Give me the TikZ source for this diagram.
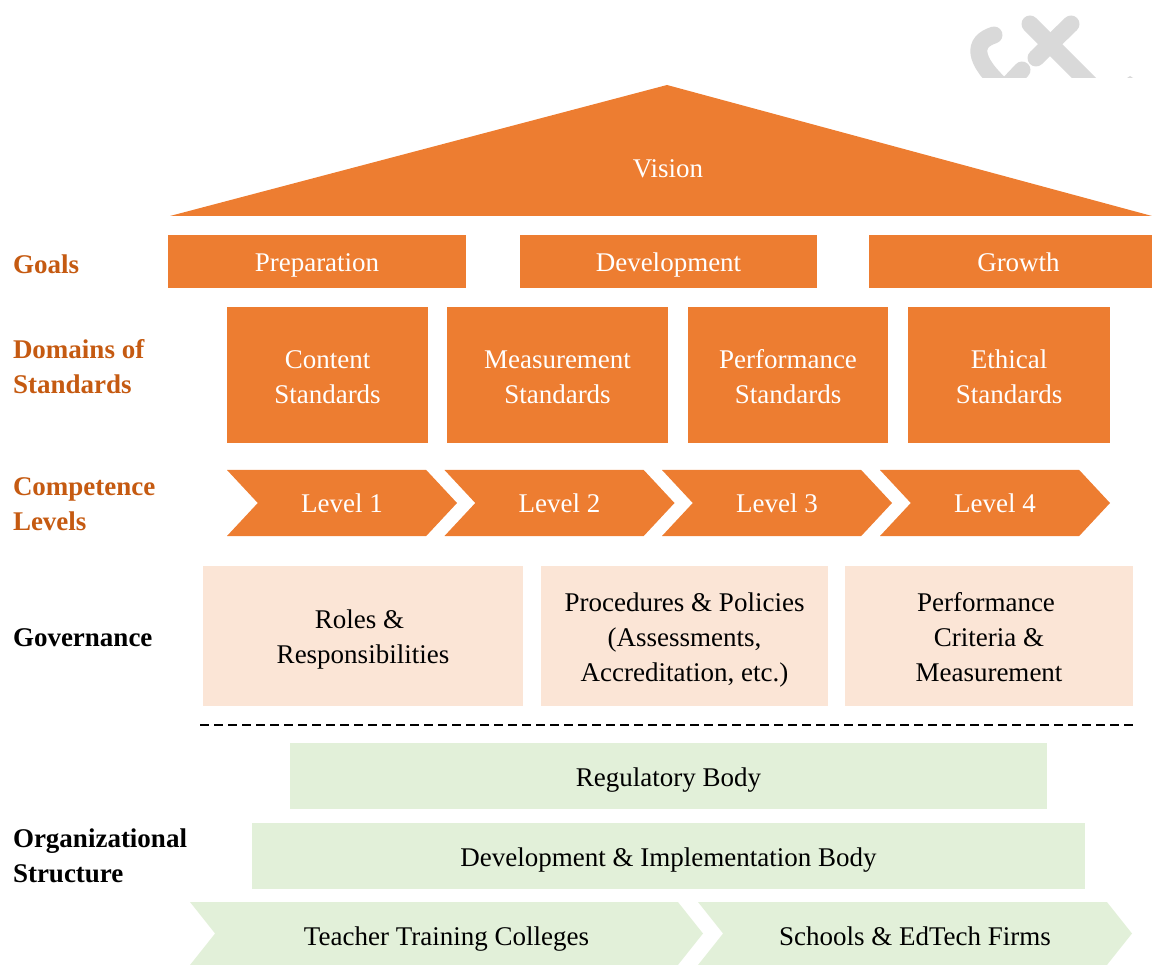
\documentclass[tikz,border=0pt]{standalone}
\usepackage{fontspec}
\setmainfont{Liberation Serif}
\usetikzlibrary{shapes.symbols}
\definecolor{roofcol}{HTML}{ED7D31}
\definecolor{headcol}{HTML}{C55A11}
\definecolor{rosecol}{HTML}{FBE5D6}
\definecolor{sagecol}{HTML}{E2F0D9}
\definecolor{logocol}{HTML}{D9D9D9}
\newcommand{\linetop}[1]{\rule{0pt}{#1pt}}

\begin{document}
\begin{tikzpicture}[x=1pt,y=-1pt,
		every node/.style={inner sep=0pt,outer sep=0pt,align=center,font=\fontsize{27}{35}\selectfont},
		text rise/.style={execute at end node={\rule[-6pt]{0pt}{#1pt}}},
		orange node/.style={fill=roofcol,text=white},
		goal node/.style={orange node,text rise=32,minimum height=53pt},
		domain node/.style={orange node,text rise=34,minimum height=136pt},
		level node/.style={orange node,text rise=30,signal,signal from=west,signal to=east,signal pointer angle=94,minimum width=230pt,minimum height=66pt},
		gov node/.style={fill=rosecol,text rise=32,minimum height=140pt},
		body node/.style={fill=sagecol,text rise=32,minimum height=66pt},
		inst node/.style={fill=sagecol,text rise=36,signal,signal from=west,signal to=east,signal pointer angle=103,minimum height=63pt},
		side node/.style={anchor=west,align=left,font=\fontsize{27}{35}\selectfont\bfseries},
		side head/.style={side node,text=headcol}]
	\useasboundingbox (0,0) rectangle (1152,965);
	% logo
	\begin{scope}
		\clip (960,0) rectangle (1140,78);
		\draw[logocol,line width=17pt,line cap=round] (1030,24) -- (1103,97);
		\draw[logocol,line width=17pt,line cap=round] (1071,24) -- (1036,58);
		\draw[logocol,line width=17pt,line cap=round] (994,35) .. controls (972,42) and (973,60) .. (1003,87);
		\draw[logocol,line width=17pt,line cap=round] (1022,70) -- (1005,88);
		\fill[logocol] (1127,78) -- (1130,76) -- (1133,78) -- cycle;
	\end{scope}
	% roof
	\fill[roofcol] (170,216) -- (667,85) -- (1152,216) -- cycle;
	\node[text=white] (vision) at (668,169) {Vision};
	% goals
	\node[side head] (goals) at (13,264) {Goals};
	\node[goal node,minimum width=298pt] (prep) at (317,261.5) {Preparation};
	\node[goal node,minimum width=297pt] (dev) at (668.5,261.5) {Development};
	\node[goal node,minimum width=283pt] (growth) at (1010.5,261.5) {\hspace*{16pt}Growth};
	% domains
	\node[side head] (domains) at (13,367) {Domains of\\Standards};
	\node[domain node,minimum width=201pt] (content) at (327.5,375) {\linetop{28}Content\\Standards};
	\node[domain node,minimum width=221pt] (measure) at (557.5,375) {\linetop{28}Measurement\\Standards};
	\node[domain node,minimum width=200pt] (perform) at (788,375) {\linetop{28}Performance\\Standards};
	\node[domain node,minimum width=202pt] (ethic) at (1009,375) {\linetop{28}Ethical\\Standards};
	% levels
	\node[side head] (levels) at (13,504) {Competence\\Levels};
	\node[level node] (l1) at (342,503) {Level 1};
	\node[level node] (l2) at (559.5,503) {Level 2};
	\node[level node] (l3) at (777,503) {Level 3};
	\node[level node] (l4) at (995,503) {Level 4};
	% governance
	\node[side node] (gov) at (13,638) {Governance};
	\node[gov node,minimum width=320pt] (roles) at (363,636) {\linetop{26}Roles \&\hspace*{7pt}\\Responsibilities};
	\node[gov node,minimum width=287pt] (proc) at (684.5,636) {\linetop{26}Procedures \& Policies\\(Assessments,\\Accreditation, etc.)};
	\node[gov node,minimum width=288pt] (crit) at (989,636) {\linetop{26}Performance\hspace*{6pt}\\Criteria \&\hspace*{5pt}\\Measurement};
	\coordinate (dash a) at (200,725);
	\coordinate (dash b) at (1133,725);
	\draw[line width=1.5pt,dash pattern=on 9pt off 5pt] (dash a) -- (dash b);
	% organization
	\node[side node] (org) at (13,856) {Organizational\\Structure};
	\node[body node,minimum width=757pt] (reg) at (668.5,776) {Regulatory Body};
	\node[body node,minimum width=833pt] (impl) at (668.5,856) {Development \& Implementation Body};
	\node[inst node,minimum width=513pt] (colleges) at (446.5,933.5) {Teacher Training Colleges};
	\node[inst node,minimum width=434pt] (schools) at (915,933.5) {Schools \& EdTech Firms};
\end{tikzpicture}
\end{document}
